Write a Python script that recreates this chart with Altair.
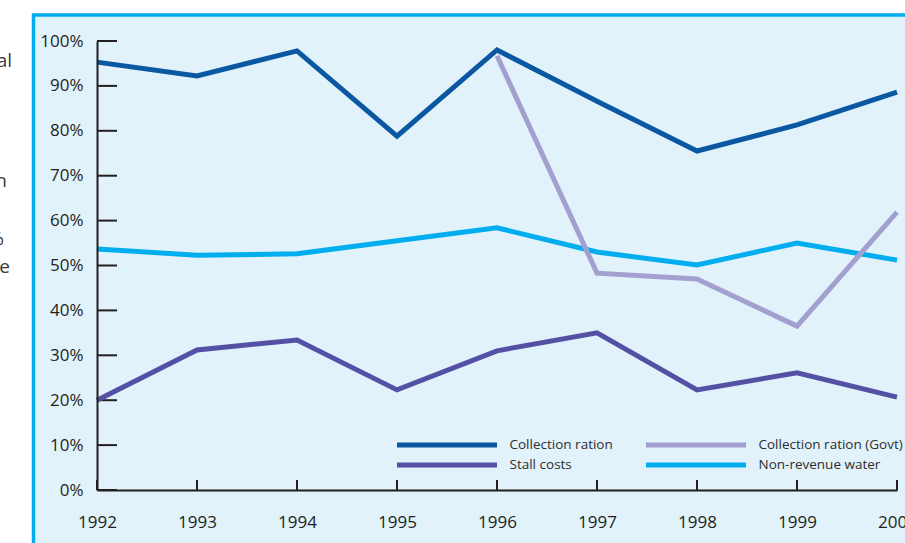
import altair as alt
import pandas as pd

# ---- data ----
years = [1992, 1993, 1994, 1995, 1996, 1997, 1998, 1999, 2000]
collection_ration = [95.3, 92.2, 97.8, 78.8, 98.0, 86.6, 75.5, 81.3, 88.6]
govt_years = [1996, 1997, 1998, 1999, 2000]
collection_govt = [96.7, 48.3, 47.0, 36.5, 61.9]
non_revenue_water = [53.7, 52.3, 52.6, 55.5, 58.4, 53.0, 50.1, 55.0, 51.2]
stall_costs = [20.0, 31.2, 33.4, 22.3, 31.0, 35.0, 22.3, 26.1, 20.7]

y_ticks = [0, 10, 20, 30, 40, 50, 60, 70, 80, 90, 100]
# legend fills column by column: left column first, then right column
series_names = ["Collection ration", "Stall costs", "Collection ration (Govt)", "Non-revenue water"]
series_colors = ["#0a58a2", "#5451a4", "#a39fcf", "#00aeef"]

# cut-off fragments of body text at the left edge
fragments = ["al", "h", "%", "e"]

# ---- tables ----
rows = []
for y, v in zip(years, non_revenue_water):
    rows.append({"year": y, "value": v, "series": "Non-revenue water"})
for y, v in zip(years, stall_costs):
    rows.append({"year": y, "value": v, "series": "Stall costs"})
for y, v in zip(govt_years, collection_govt):
    rows.append({"year": y, "value": v, "series": "Collection ration (Govt)"})
for y, v in zip(years, collection_ration):
    rows.append({"year": y, "value": v, "series": "Collection ration"})
df = pd.DataFrame(rows)

ink = "#231f20"
font = "Open Sans"

X = alt.X(
    "year:Q",
    scale=alt.Scale(domain=[1992, 2000], nice=False, zero=False),
    axis=alt.Axis(
        values=years, format="d", title=None, grid=False,
        tickSize=0, labelPadding=32, labelBaseline="middle",
        labelFontSize=17, labelColor=ink, labelFont=font,
        labelFlush=False, labelOverlap=False,
        domainColor=ink, domainWidth=2, zindex=1,
    ),
)
Y = alt.Y(
    "value:Q",
    scale=alt.Scale(domain=[0, 100], nice=False),
    axis=alt.Axis(
        values=y_ticks, labelExpr="datum.value + '%'", title=None, grid=False,
        tickSize=0, labelPadding=14, labelBaseline="middle",
        labelFontSize=17, labelColor=ink, labelFont=font,
        domainColor=ink, domainWidth=2, zindex=1,
    ),
)
C = alt.Color(
    "series:N",
    scale=alt.Scale(domain=series_names, range=series_colors),
    legend=alt.Legend(
        title=None, orient="none", legendX=297.5, legendY=394,
        columns=2, symbolType="stroke", symbolSize=10000, symbolStrokeWidth=5,
        clipHeight=20, labelOffset=10, columnPadding=30, rowPadding=0,
        padding=0, labelFontSize=13.5, labelColor="#2e2e2e", labelFont=font,
        labelBaseline="middle",
    ),
)

one = pd.DataFrame({"k": [0]})

panel = alt.Chart(one).mark_rect(
    fill="#e1f2fb", stroke="#00aeef", strokeWidth=3.5
).encode(
    x=alt.value(-63.5), x2=alt.value(1000), y=alt.value(-26), y2=alt.value(700)
)

ytick_rules = alt.Chart(pd.DataFrame({"value": y_ticks})).mark_rule(
    color=ink, strokeWidth=2
).encode(y=Y, x=alt.value(0), x2=alt.value(20))

xtick_rules = alt.Chart(pd.DataFrame({"year": years})).mark_rule(
    color=ink, strokeWidth=2
).encode(x=X, y=alt.value(439), y2=alt.value(449))

lines = []
for name in ["Non-revenue water", "Stall costs", "Collection ration (Govt)", "Collection ration"]:
    lines.append(
        alt.Chart(df).transform_filter(alt.datum.series == name)
        .mark_line(strokeWidth=5, strokeJoin="miter", strokeCap="butt")
        .encode(x=X, y=Y, color=C)
    )

frag_pos = [(-85, 26), (-90, 146), (-93, 204), (-87, 232)]
frag_layers = []
for t, (fx, fy) in zip(fragments, frag_pos):
    frag_layers.append(
        alt.Chart(one).mark_text(
            text=t, align="right", baseline="alphabetic",
            font=font, fontSize=19, color="#3a3a3a"
        ).encode(x=alt.value(fx), y=alt.value(fy))
    )

chart = alt.layer(
    panel, ytick_rules, xtick_rules, *lines, *frag_layers
).properties(
    width=800, height=449,
    padding={"left": 97, "top": 41, "right": 8, "bottom": 53},
    autosize=alt.AutoSizeParams(type="none"),
).configure(background="white").configure_view(stroke=None)

chart.save("out.html", embed_options={"renderer": "svg", "actions": False})
